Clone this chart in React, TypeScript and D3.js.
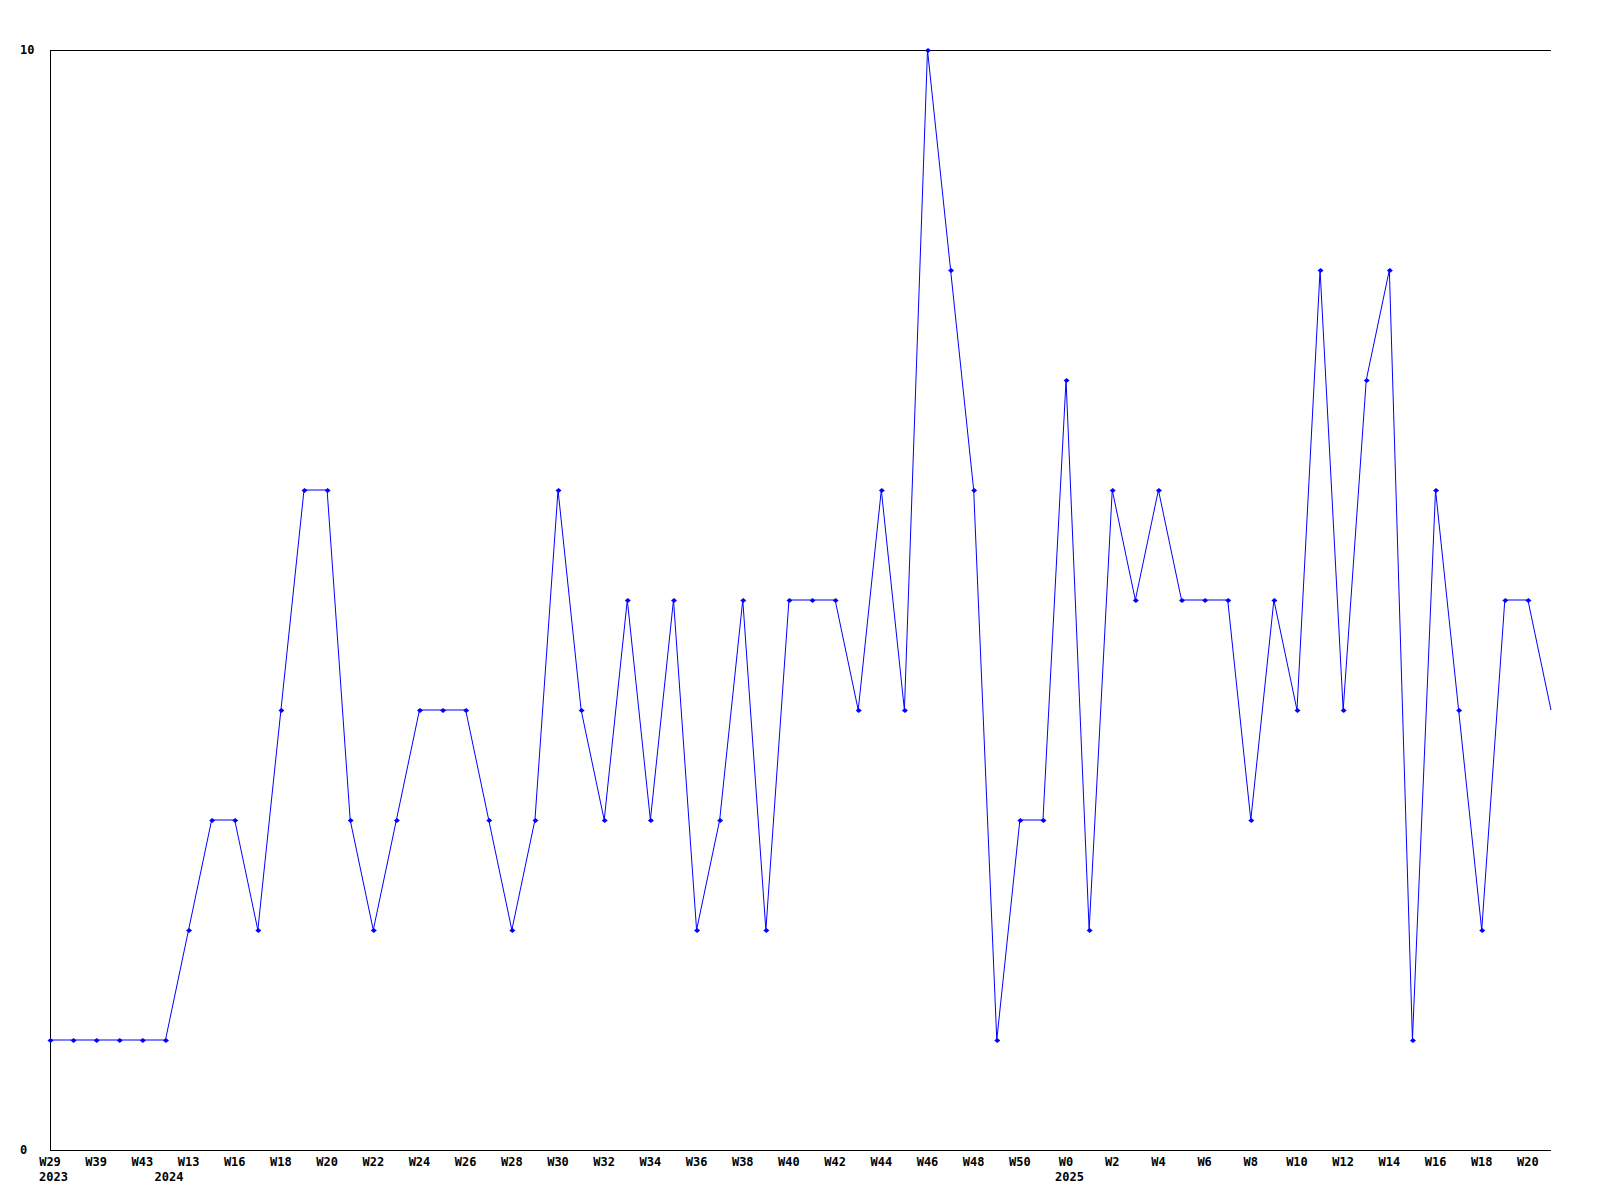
import React from "react";
import * as d3 from "d3";

const weeks: string[] = [
  "W29", "W33", "W39", "W41", "W43", "W11", "W13", "W15", "W16", "W17",
  "W18", "W19", "W20", "W21", "W22", "W23", "W24", "W25", "W26", "W27",
  "W28", "W29", "W30", "W31", "W32", "W33", "W34", "W35", "W36", "W37",
  "W38", "W39", "W40", "W41", "W42", "W43", "W44", "W45", "W46", "W47",
  "W48", "W49", "W50", "W51", "W0", "W1", "W2", "W3", "W4", "W5",
  "W6", "W7", "W8", "W9", "W10", "W11", "W12", "W13", "W14", "W15",
  "W16", "W17", "W18", "W19", "W20", "W21",
];

const values: number[] = [
  1, 1, 1, 1, 1, 1, 2, 3, 3, 2,
  4, 6, 6, 3, 2, 3, 4, 4, 4, 3,
  2, 3, 6, 4, 3, 5, 3, 5, 2, 3,
  5, 2, 5, 5, 5, 4, 6, 4, 10, 8,
  6, 1, 3, 3, 7, 2, 6, 5, 6, 5,
  5, 5, 3, 5, 4, 8, 4, 7, 8, 1,
  6, 4, 2, 5, 5, 4,
];

const yearLabels: { index: number; label: string }[] = [
  { index: 0, label: "2023" },
  { index: 5, label: "2024" },
  { index: 44, label: "2025" },
];

const yTicks: number[] = [0, 10];

const W = 1600;
const H = 1200;
const left = 50;
const right = 1551;
const top = 50;
const bottom = 1150;

export default function App() {
  const x = d3.scaleLinear().domain([0, values.length - 1]).range([left, right]);
  const y = d3.scaleLinear().domain([0, 10]).range([bottom, top]);
  const line = d3
    .line<number>()
    .x((_, i) => x(i))
    .y((d) => y(d));
  const font = "'DejaVu Sans Mono', 'Liberation Mono', monospace";
  const marker = "M-3,0L0,-2.5L3,0L0,2.5Z";

  return (
    <svg
      width={W}
      height={H}
      style={{ position: "absolute", left: 0, top: 0, background: "#fff" }}
    >
      <rect x={0} y={0} width={W} height={H} fill="#fff" />
      <g shapeRendering="crispEdges" stroke="#000" strokeWidth={1}>
        <line x1={left + 0.5} x2={left + 0.5} y1={top} y2={bottom + 1} />
        <line x1={left} x2={right} y1={top + 0.5} y2={top + 0.5} />
        <line x1={left} x2={right} y1={bottom + 0.5} y2={bottom + 0.5} />
      </g>
      <path d={line(values) || ""} fill="none" stroke="#0000ff" strokeWidth={1} />
      <g fill="#0000ff">
        {values.map((v, i) =>
          i < values.length - 1 ? (
            <path key={i} d={marker} transform={`translate(${x(i) + 0.5},${y(v) + 0.5})`} />
          ) : null
        )}
      </g>
      <g fontFamily={font} fontWeight="bold" fontSize={12} fill="#000">
        {yTicks.map((t) => (
          <text key={t} x={20} y={y(t) + 4}>
            {t}
          </text>
        ))}
        {weeks.map((w, i) =>
          i % 2 === 0 ? (
            <text key={i} x={x(i)} y={1166} textAnchor="middle">
              {w}
            </text>
          ) : null
        )}
        {yearLabels.map((yl) => (
          <text key={yl.label} x={x(yl.index) + 3.5} y={1181} textAnchor="middle">
            {yl.label}
          </text>
        ))}
      </g>
    </svg>
  );
}
